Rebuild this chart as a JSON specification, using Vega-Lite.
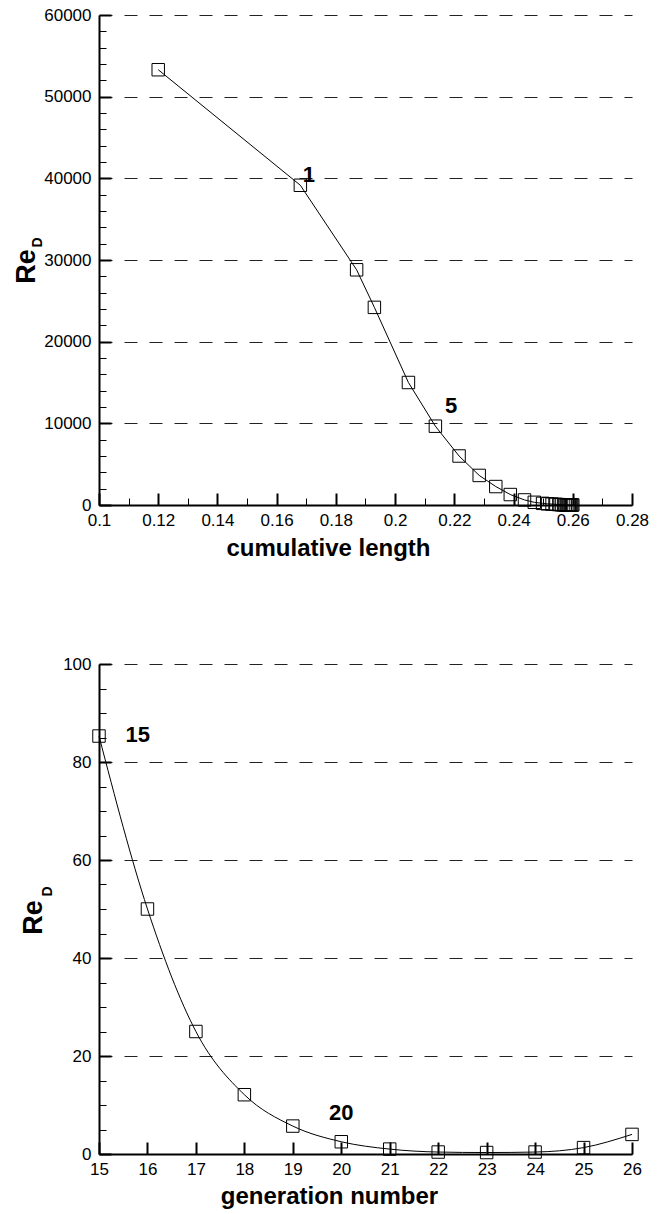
{
  "$schema": "https://vega.github.io/schema/vega-lite/v6.json",
  "background": "white",
  "padding": {"left": 12, "top": 6, "right": 5, "bottom": 5},
  "spacing": 95,
  "config": {
    "font": "Liberation Sans",
    "view": {"stroke": null},
    "axis": {
      "labelFont": "Liberation Sans", "titleFont": "Liberation Sans",
      "labelColor": "black", "titleColor": "black", "labelFontSize": 17,
      "domainColor": "black", "tickColor": "black",
      "labelFlush": false, "labelOverlap": false
    }
  },
  "datasets": {
    "airway": [
      {"gen": 0, "len": 0.120, "re": 53300},
      {"gen": 1, "len": 0.168, "re": 39150},
      {"gen": 2, "len": 0.187, "re": 28800},
      {"gen": 3, "len": 0.193, "re": 24200},
      {"gen": 4, "len": 0.2045, "re": 15000},
      {"gen": 5, "len": 0.2136, "re": 9650},
      {"gen": 6, "len": 0.2216, "re": 6000},
      {"gen": 7, "len": 0.2284, "re": 3620},
      {"gen": 8, "len": 0.234, "re": 2260},
      {"gen": 9, "len": 0.2389, "re": 1280},
      {"gen": 10, "len": 0.2437, "re": 620},
      {"gen": 11, "len": 0.247, "re": 330},
      {"gen": 12, "len": 0.2498, "re": 200},
      {"gen": 13, "len": 0.2515, "re": 140},
      {"gen": 14, "len": 0.253, "re": 110},
      {"gen": 15, "len": 0.2543, "re": 85.3},
      {"gen": 16, "len": 0.2553, "re": 50},
      {"gen": 17, "len": 0.2562, "re": 25},
      {"gen": 18, "len": 0.2569, "re": 12.1},
      {"gen": 19, "len": 0.2575, "re": 5.7},
      {"gen": 20, "len": 0.258, "re": 2.5},
      {"gen": 21, "len": 0.2584, "re": 1.0},
      {"gen": 22, "len": 0.2588, "re": 0.4},
      {"gen": 23, "len": 0.2591, "re": 0.3},
      {"gen": 24, "len": 0.2594, "re": 0.4},
      {"gen": 25, "len": 0.2597, "re": 1.3},
      {"gen": 26, "len": 0.2600, "re": 4.0}
    ],
    "topLabels": [
      {"t": "1", "x": 0.1709, "y": 40400},
      {"t": "5", "x": 0.2189, "y": 12100}
    ],
    "bottomLabels": [
      {"t": "15", "x": 15.8, "y": 85.6},
      {"t": "20", "x": 20.0, "y": 8.3}
    ]
  },
  "vconcat": [
    {
      "width": 533,
      "height": 490,
      "layer": [
        {
          "data": {"name": "airway"},
          "encoding": {
            "x": {
              "field": "len", "type": "quantitative",
              "scale": {"domain": [0.1, 0.28], "nice": false, "zero": false},
              "axis": {
                "title": "cumulative length",
                "values": [0.1, 0.12, 0.14, 0.16, 0.18, 0.2, 0.22, 0.24, 0.26, 0.28],
                "format": "~g", "grid": false,
                "domainWidth": 2, "tickWidth": 2, "tickSize": -12, "labelPadding": 19,
                "titleFontSize": 24, "titleFontWeight": "bold",
                "titleX": 229, "titleY": 50, "titleAlign": "center", "titleBaseline": "alphabetic"
              }
            },
            "y": {
              "field": "re", "type": "quantitative",
              "scale": {"domain": [0, 60000], "nice": false, "zero": false},
              "axis": {
                "title": "Re",
                "values": [0, 10000, 20000, 30000, 40000, 50000, 60000],
                "format": "d", "grid": true, "gridDash": [13, 12], "gridColor": "#222", "gridWidth": 1,
                "domainWidth": 2, "tickWidth": 2, "tickSize": -12, "labelPadding": 20,
                "titleFontSize": 27, "titleFontWeight": "bold", "titleAngle": -90,
                "titleX": -65, "titleY": 251, "titleAlign": "center", "titleBaseline": "alphabetic"
              }
            }
          },
          "layer": [
            {"mark": {"type": "line", "color": "black", "strokeWidth": 1, "interpolate": "linear"}},
            {"mark": {"type": "point", "shape": "square", "size": 155, "filled": false, "color": "black", "strokeWidth": 1, "opacity": 1}}
          ]
        },
        {
          "data": {"name": "topLabels"},
          "mark": {"type": "text", "font": "Liberation Sans", "fontSize": 22, "fontWeight": "bold", "color": "black", "align": "center", "baseline": "middle"},
          "encoding": {
            "x": {
              "field": "x", "type": "quantitative",
              "scale": {"domain": [0.1, 0.28], "nice": false, "zero": false},
              "axis": {
                "orient": "bottom", "title": null, "labels": false, "domain": false, "grid": false,
                "values": [0.11, 0.13, 0.15, 0.17, 0.19, 0.21, 0.23, 0.25, 0.27],
                "tickSize": -7, "tickWidth": 1
              }
            },
            "y": {
              "field": "y", "type": "quantitative",
              "scale": {"domain": [0, 60000], "nice": false, "zero": false},
              "axis": {
                "orient": "left", "labels": false, "domain": false, "grid": false,
                "values": [2000, 4000, 6000, 8000, 12000, 14000, 16000, 18000, 22000, 24000, 26000, 28000, 32000, 34000, 36000, 38000, 42000, 44000, 46000, 48000, 52000, 54000, 56000, 58000],
                "tickSize": -7, "tickWidth": 1,
                "title": "D", "titleFontSize": 14, "titleFontWeight": "bold", "titleAngle": -90,
                "titleX": -58, "titleY": 227, "titleAlign": "center", "titleBaseline": "alphabetic"
              }
            },
            "text": {"field": "t"}
          }
        }
      ],
      "resolve": {"axis": {"x": "independent", "y": "independent"}}
    },
    {
      "width": 533,
      "height": 490,
      "layer": [
        {
          "data": {"name": "airway"},
          "transform": [{"filter": "datum.gen >= 15"}],
          "encoding": {
            "x": {
              "field": "gen", "type": "quantitative",
              "scale": {"domain": [15, 26], "nice": false, "zero": false},
              "axis": {
                "title": "generation number",
                "values": [15, 16, 17, 18, 19, 20, 21, 22, 23, 24, 25, 26],
                "format": "d", "grid": false,
                "domainWidth": 2, "tickWidth": 2, "tickSize": -12, "labelPadding": 19,
                "titleFontSize": 24, "titleFontWeight": "bold",
                "titleX": 230, "titleY": 49, "titleAlign": "center", "titleBaseline": "alphabetic"
              }
            },
            "y": {
              "field": "re", "type": "quantitative",
              "scale": {"domain": [0, 100], "nice": false, "zero": false},
              "axis": {
                "title": "Re",
                "values": [0, 20, 40, 60, 80, 100],
                "format": "d", "grid": true, "gridDash": [13, 12], "gridColor": "#222", "gridWidth": 1,
                "domainWidth": 2, "tickWidth": 2, "tickSize": -12, "labelPadding": 20,
                "titleFontSize": 27, "titleFontWeight": "bold", "titleAngle": -90,
                "titleX": -58, "titleY": 253, "titleAlign": "center", "titleBaseline": "alphabetic"
              }
            }
          },
          "layer": [
            {"mark": {"type": "line", "color": "black", "strokeWidth": 1, "interpolate": "monotone"}},
            {"mark": {"type": "point", "shape": "square", "size": 155, "filled": false, "color": "black", "strokeWidth": 1, "opacity": 1}}
          ]
        },
        {
          "data": {"name": "bottomLabels"},
          "mark": {"type": "text", "font": "Liberation Sans", "fontSize": 22, "fontWeight": "bold", "color": "black", "align": "center", "baseline": "middle"},
          "encoding": {
            "x": {
              "field": "x", "type": "quantitative",
              "scale": {"domain": [15, 26], "nice": false, "zero": false},
              "axis": null
            },
            "y": {
              "field": "y", "type": "quantitative",
              "scale": {"domain": [0, 100], "nice": false, "zero": false},
              "axis": {
                "orient": "left", "labels": false, "domain": false, "grid": false,
                "values": [5, 10, 15, 25, 30, 35, 45, 50, 55, 65, 70, 75, 85, 90, 95],
                "tickSize": -7, "tickWidth": 1,
                "title": "D", "titleFontSize": 14, "titleFontWeight": "bold", "titleAngle": -90,
                "titleX": -48, "titleY": 227, "titleAlign": "center", "titleBaseline": "alphabetic"
              }
            },
            "text": {"field": "t"}
          }
        }
      ],
      "resolve": {"axis": {"x": "independent", "y": "independent"}}
    }
  ]
}
